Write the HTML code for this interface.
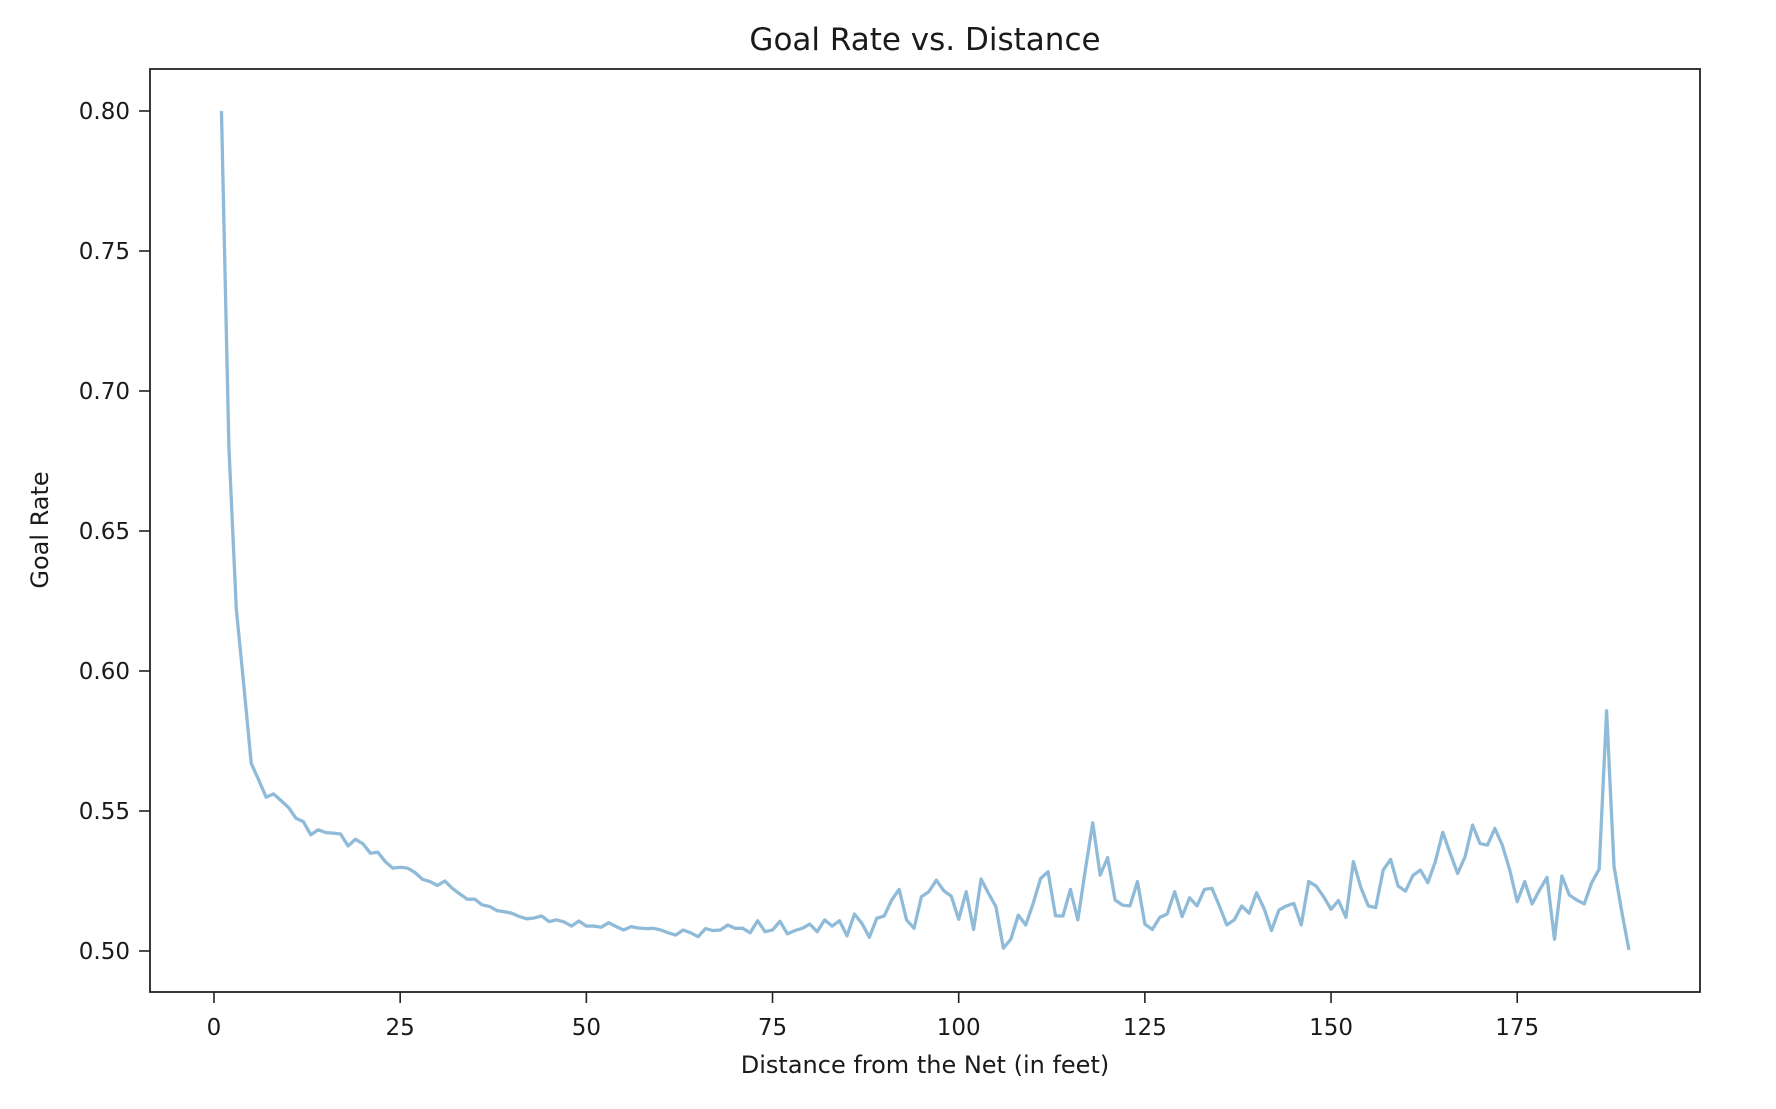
<!DOCTYPE html>
<html><head><meta charset="utf-8"><style>
html,body{margin:0;padding:0;background:#fff;}
svg text{font-family:"DejaVu Sans","Liberation Sans",sans-serif;fill:#1a1a1a;}
</style></head><body>
<svg id="chart" width="1776" height="1104" viewBox="0 0 1776 1104" xmlns="http://www.w3.org/2000/svg">
<rect x="0" y="0" width="1776" height="1104" fill="#fff"/>
<text x="925" y="50" font-size="31" text-anchor="middle">Goal Rate vs. Distance</text>
<g id="plot"></g>
<rect x="150" y="69" width="1550" height="923" fill="none" stroke="#222" stroke-width="1.8"/>
<g id="xticks"></g><g id="yticks"></g>
<text x="925" y="1073" font-size="24" text-anchor="middle">Distance from the Net (in feet)</text>
<text transform="translate(48,530) rotate(-90)" font-size="24" text-anchor="middle">Goal Rate</text>
</svg>
<script>
const distances = [];
for (let i = 1; i <= 190; i++) distances.push(i);
const goalRates = [
0.800,0.680,0.622,0.595,0.567,0.5611,0.5549,0.5561,0.5537,0.5513,
0.5474,0.5462,0.5415,0.5433,0.5423,0.5421,0.5418,0.5375,0.5399,0.5383,
0.5349,0.5353,0.5319,0.5296,0.5299,0.5296,0.5280,0.5256,0.5248,0.5234,
0.5250,0.5224,0.5204,0.5185,0.5185,0.5165,0.5159,0.5144,0.5140,0.5135,
0.5123,0.5115,0.5118,0.5125,0.5105,0.5111,0.5104,0.5089,0.5107,0.5089,
0.5089,0.5085,0.5101,0.5087,0.5075,0.5087,0.5082,0.5080,0.5081,0.5075,
0.5065,0.5057,0.5075,0.5065,0.5051,0.5080,0.5073,0.5075,0.5093,0.5081,
0.5081,0.5065,0.5108,0.5069,0.5075,0.5106,0.5061,0.5073,0.5081,0.5096,
0.5069,0.5111,0.5089,0.5108,0.5054,0.5132,0.5099,0.5049,0.5117,0.5125,
0.5182,0.5220,0.5111,0.5081,0.5194,0.5212,0.5253,0.5215,0.5196,0.5113,
0.5212,0.5077,0.5257,0.5206,0.5158,0.5010,0.5042,0.5128,0.5093,0.5170,
0.5259,0.5283,0.5126,0.5125,0.5220,0.5111,0.5289,0.5458,0.5271,0.5334,
0.5182,0.5164,0.5161,0.5248,0.5096,0.5077,0.5120,0.5132,0.5212,0.5123,
0.5190,0.5161,0.5220,0.5224,0.5161,0.5093,0.5111,0.5161,0.5135,0.5208,
0.5152,0.5073,0.5146,0.5161,0.5170,0.5093,0.5248,0.5232,0.5194,0.5149,
0.5180,0.5120,0.5319,0.5227,0.5161,0.5155,0.5289,0.5327,0.5232,0.5214,
0.5270,0.5289,0.5244,0.5319,0.5424,0.5349,0.5277,0.5337,0.5450,0.5384,
0.5378,0.5438,0.5378,0.5289,0.5176,0.5248,0.5168,0.5218,0.5263,0.5042,
0.5268,0.5200,0.5182,0.5168,0.5244,0.5292,0.5858,0.5301,0.5146,0.5004
];
const xTickValues = [0,25,50,75,100,125,150,175];
const yTickValues = [0.50,0.55,0.60,0.65,0.70,0.75,0.80];
const yTickLabels = ["0.50","0.55","0.60","0.65","0.70","0.75","0.80"];

const X0 = 214, XS = 7.447;
const Y0 = 951, YS = 2800;
function xScale(v){ return X0 + v * XS; }
function yScale(v){ return Y0 - (v - 0.5) * YS; }
const NS = "http://www.w3.org/2000/svg";

const plot = document.getElementById('plot');
let d = '';
for (let i = 0; i < distances.length; i++) {
  d += (i ? 'L' : 'M') + xScale(distances[i]).toFixed(2) + ' ' + yScale(goalRates[i]).toFixed(2);
}
const line = document.createElementNS(NS, 'path');
line.setAttribute('d', d);
line.setAttribute('fill', 'none');
line.setAttribute('stroke', '#1f77b4');
line.setAttribute('stroke-opacity', '0.5');
line.setAttribute('stroke-width', '3.3');
line.setAttribute('stroke-linejoin', 'round');


plot.appendChild(line);

const xt = document.getElementById('xticks');
xTickValues.forEach(v => {
  const x = xScale(v);
  const t = document.createElementNS(NS, 'line');
  t.setAttribute('x1', x); t.setAttribute('x2', x);
  t.setAttribute('y1', 992); t.setAttribute('y2', 1003);
  t.setAttribute('stroke', '#222'); t.setAttribute('stroke-width', '1.6');
  
  
  xt.appendChild(t);
  const l = document.createElementNS(NS, 'text');
  l.setAttribute('x', x); l.setAttribute('y', 1035);
  l.setAttribute('font-size', '23'); l.setAttribute('text-anchor', 'middle');
  l.textContent = String(v);
  
  
  xt.appendChild(l);
});
const yt = document.getElementById('yticks');
yTickValues.forEach((v, i) => {
  const y = yScale(v);
  const t = document.createElementNS(NS, 'line');
  t.setAttribute('x1', 139); t.setAttribute('x2', 150);
  t.setAttribute('y1', y); t.setAttribute('y2', y);
  t.setAttribute('stroke', '#222'); t.setAttribute('stroke-width', '1.6');
  
  
  yt.appendChild(t);
  const l = document.createElementNS(NS, 'text');
  l.setAttribute('x', 130); l.setAttribute('y', y + 8);
  l.setAttribute('font-size', '23'); l.setAttribute('text-anchor', 'end');
  l.textContent = yTickLabels[i];
  
  
  yt.appendChild(l);
});
</script>
</body></html>
